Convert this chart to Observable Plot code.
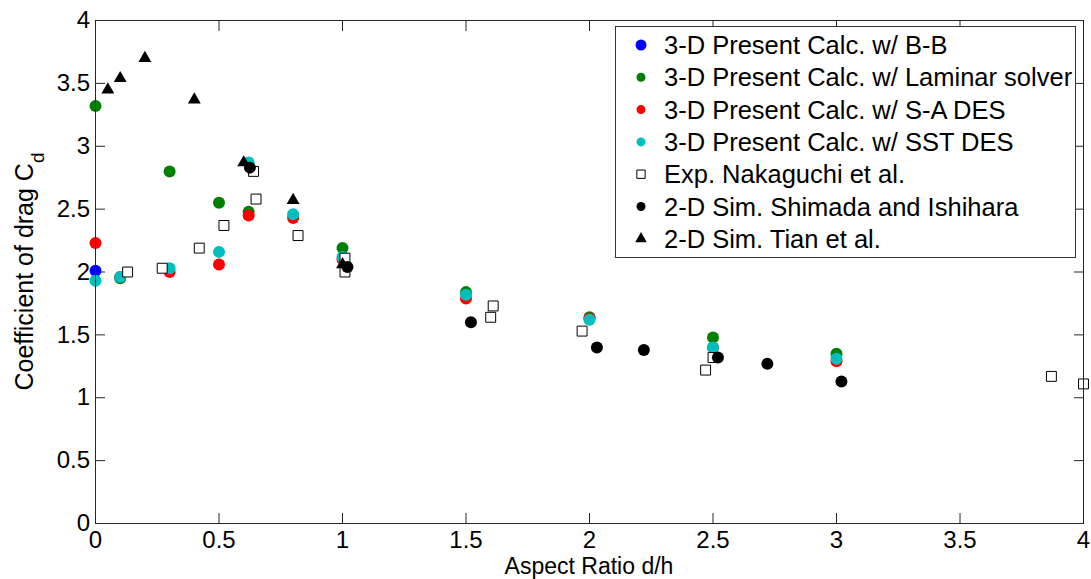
<!DOCTYPE html>
<html><head><meta charset="utf-8">
<script src="https://cdn.jsdelivr.net/npm/d3@7"></script>
<script src="https://cdn.jsdelivr.net/npm/@observablehq/plot@0.6"></script>
<style>
body{margin:0;background:#fff;}
#chart svg{font-family:"Liberation Sans",Arial,sans-serif;}
</style>
</head><body><div id="chart"></div>
<script>
// ---- data ----
const seriesNames = [
  "3-D Present Calc. w/ B-B",
  "3-D Present Calc. w/ Laminar solver",
  "3-D Present Calc. w/ S-A DES",
  "3-D Present Calc. w/ SST DES",
  "Exp. Nakaguchi et al.",
  "2-D Sim. Shimada and Ishihara",
  "2-D Sim. Tian et al."
];
const bbX = [0];
const bbY = [2.01];
const lamX = [0, 0.1, 0.3, 0.5, 0.62, 1.0, 1.5, 2.0, 2.5, 3.0];
const lamY = [3.32, 1.95, 2.80, 2.55, 2.48, 2.19, 1.84, 1.64, 1.48, 1.35];
const saX = [0, 0.1, 0.3, 0.5, 0.62, 0.8, 1.0, 1.5, 2.0, 2.5, 3.0];
const saY = [2.23, 1.96, 2.00, 2.06, 2.45, 2.43, 2.10, 1.79, 1.63, 1.40, 1.29];
const sstX = [0, 0.1, 0.3, 0.5, 0.62, 0.8, 1.0, 1.5, 2.0, 2.5, 3.0];
const sstY = [1.93, 1.96, 2.03, 2.16, 2.87, 2.46, 2.12, 1.82, 1.62, 1.40, 1.31];
const expX = [0.13, 0.27, 0.42, 0.52, 0.64, 0.65, 0.82, 1.01, 1.01, 1.60, 1.61, 1.97, 2.47, 2.50, 3.87, 4.0];
const expY = [2.00, 2.03, 2.19, 2.37, 2.80, 2.58, 2.29, 2.11, 2.00, 1.64, 1.73, 1.53, 1.22, 1.32, 1.17, 1.11];
const shiX = [0.625, 1.02, 1.52, 2.03, 2.22, 2.52, 2.72, 3.02];
const shiY = [2.83, 2.04, 1.60, 1.40, 1.38, 1.32, 1.27, 1.13];
const tianX = [0.05, 0.1, 0.2, 0.4, 0.6, 0.8, 1.0];
const tianY = [3.45, 3.54, 3.70, 3.37, 2.87, 2.57, 2.06];
const xTicks = [0, 0.5, 1, 1.5, 2, 2.5, 3, 3.5, 4];
const yTicks = [0, 0.5, 1, 1.5, 2, 2.5, 3, 3.5, 4];
const xLabel = "Aspect Ratio d/h";
const yLabelMain = "Coefficient of drag C";
const yLabelSub = "d";

// ---- styles ----
const colors = ["#0000ff", "#008000", "#ff0000", "#00bfbf"];

function pts(xs, ys) { return xs.map((x, i) => ({x, y: ys[i]})); }
const fmt = d => String(d);

const axisFont = {fontSize: 24, fill: "#000"};
const chart = Plot.plot({
  width: 1091, height: 579,
  marginLeft: 95, marginRight: 8, marginTop: 20, marginBottom: 56,
  style: {fontFamily: "Liberation Sans, Arial, sans-serif", background: "#fff", color: "#262626"},
  x: {domain: [0, 4]},
  y: {domain: [0, 4]},
  marks: [
    Plot.axisX(xTicks, {anchor: "bottom", tickSize: -10, tickPadding: 17, tickFormat: fmt, label: null, ...axisFont}),
    Plot.axisX(xTicks, {anchor: "top", tickSize: -10, tickFormat: () => "", label: null}),
    Plot.axisY(yTicks, {anchor: "left", tickSize: -10, tickPadding: 15.5, tickFormat: fmt, label: null, ...axisFont}),
    Plot.axisY(yTicks, {anchor: "right", tickSize: -10, tickFormat: () => "", label: null}),
    Plot.dot(pts(bbX, bbY), {x: "x", y: "y", r: 6, fill: colors[0]}),
    Plot.dot(pts(lamX, lamY), {x: "x", y: "y", r: 6, fill: colors[1]}),
    Plot.dot(pts(saX, saY), {x: "x", y: "y", r: 6, fill: colors[2]}),
    Plot.dot(pts(sstX, sstY), {x: "x", y: "y", r: 6, fill: colors[3]}),
    Plot.dot(pts(expX, expY), {x: "x", y: "y", r: 5.6, symbol: "square", fill: "#fff", stroke: "#000", strokeWidth: 1}),
    Plot.dot(pts(shiX, shiY), {x: "x", y: "y", r: 6, fill: "#000"}),
    Plot.dot(pts(tianX, tianY), {x: "x", y: "y", r: 4.8, symbol: "triangle", fill: "#000"}),
    Plot.frame({stroke: "#262626"})
  ]
});
document.getElementById("chart").appendChild(chart);

// ---- labels and legend ----
const svg = d3.select(chart);
const xs = chart.scale("x"), ys = chart.scale("y");
svg.append("text")
  .attr("x", (xs.range[0] + xs.range[1]) / 2).attr("y", 574)
  .attr("text-anchor", "middle").attr("font-size", 23).attr("fill", "#000")
  .text(xLabel);
const yl = svg.append("text")
  .attr("transform", `translate(32.5,${(ys.range[0] + ys.range[1]) / 2}) rotate(-90)`)
  .attr("text-anchor", "middle").attr("font-size", 25).attr("fill", "#000");
yl.append("tspan").text(yLabelMain);
yl.append("tspan").attr("font-size", 19).attr("dy", 11).text(yLabelSub);

const leg = svg.append("g");
leg.append("rect").attr("x", 615.5).attr("y", 26.5).attr("width", 460).attr("height", 231)
  .attr("fill", "#fff").attr("stroke", "#333").attr("stroke-width", 1);
const legSym = [
  {type: d3.symbolCircle, r: 5.5, fill: colors[0], stroke: "none"},
  {type: d3.symbolCircle, r: 4.5, fill: colors[1], stroke: "none"},
  {type: d3.symbolCircle, r: 4.5, fill: colors[2], stroke: "none"},
  {type: d3.symbolCircle, r: 4.5, fill: colors[3], stroke: "none"},
  {type: d3.symbolSquare, r: 4.7, fill: "#fff", stroke: "#000"},
  {type: d3.symbolCircle, r: 4.5, fill: "#000", stroke: "none"},
  {type: d3.symbolTriangle, r: 4.3, fill: "#000", stroke: "none"}
];
seriesNames.forEach((name, i) => {
  const cy = 45 + i * 32.3;
  const s = legSym[i];
  leg.append("path")
    .attr("d", d3.symbol(s.type, Math.PI * s.r * s.r)())
    .attr("transform", `translate(641,${cy})`)
    .attr("fill", s.fill).attr("stroke", s.stroke);
  leg.append("text").attr("x", 664).attr("y", cy + 9)
    .attr("text-anchor", "start")
    .attr("font-size", 25.5).attr("fill", "#000").text(name);
});
</script>
</body></html>
